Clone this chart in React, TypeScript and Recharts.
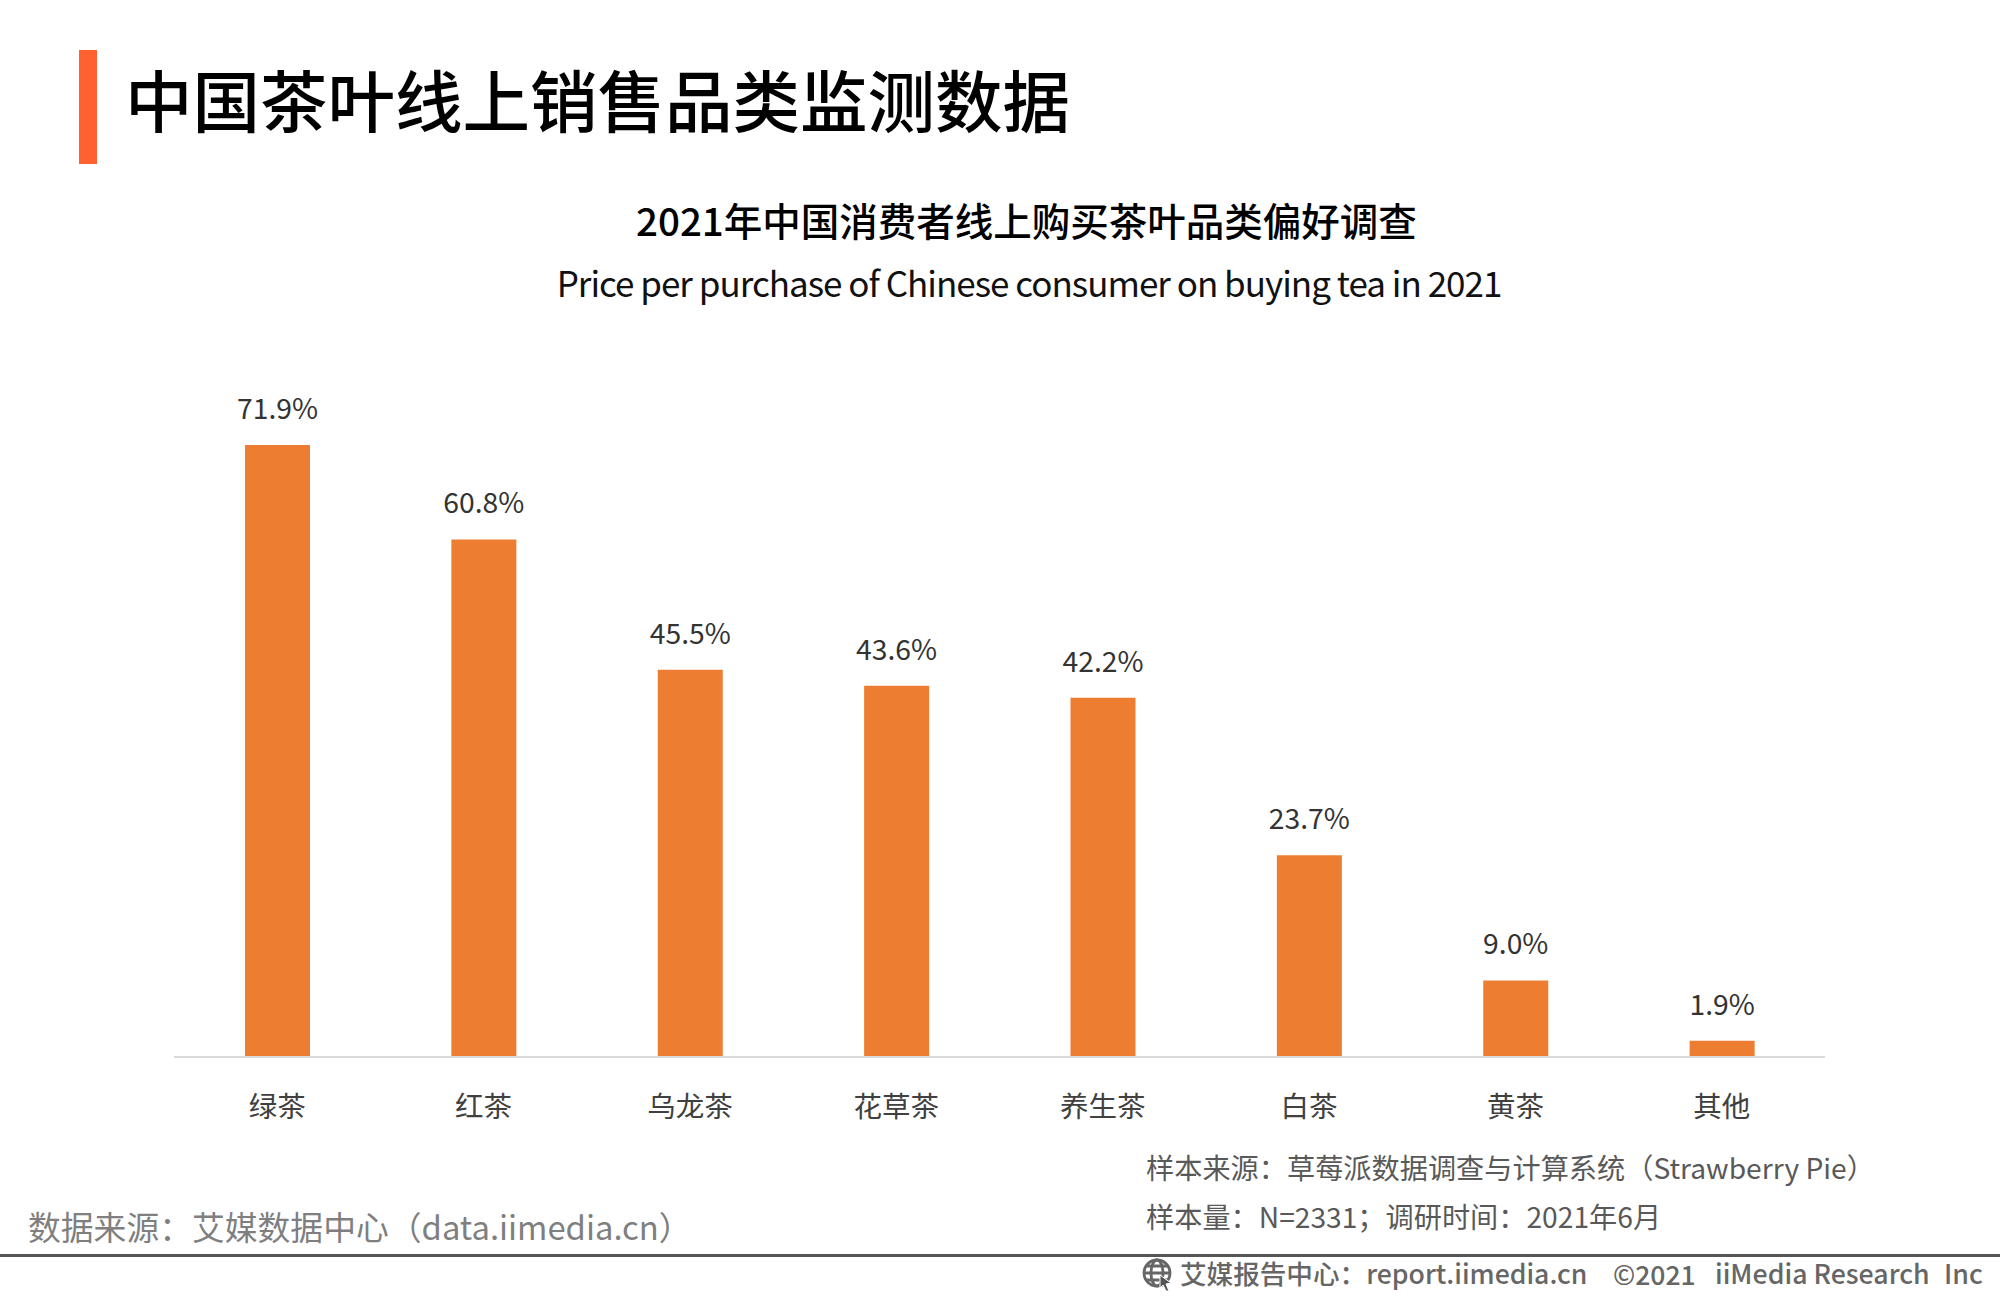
import { BarChart, Bar, XAxis, YAxis, LabelList } from "recharts";

const categories = ["绿茶", "红茶", "乌龙茶", "花草茶", "养生茶", "白茶", "黄茶", "其他"];
const shares = [71.9, 60.8, 45.5, 43.6, 42.2, 23.7, 9.0, 1.9];

const chartData = categories.map((name, i) => ({ name, share: shares[i] }));

const FONT = '"Noto Sans CJK SC", "Noto Sans", sans-serif';

function Txt({ x, y, size, color, weight, center, spacing, children }: any) {
  // y is the vertical centre of the line
  return (
    <div
      style={{
        position: "absolute",
        left: center ? x - 800 : x,
        width: center ? 1600 : undefined,
        textAlign: center ? "center" : "left",
        top: y - size,
        lineHeight: `${size * 2}px`,
        fontSize: size,
        color,
        fontWeight: weight || 400,
        fontFamily: FONT,
        letterSpacing: spacing,
        whiteSpace: "nowrap",
      }}
    >
      {children}
    </div>
  );
}

export default function App() {
  return (
    <div style={{ position: "absolute", left: 0, top: 0, width: 2000, height: 1300, background: "#fff", overflow: "hidden" }}>
      <div style={{ position: "absolute", left: 79, top: 50, width: 18, height: 114, background: "#FF6131" }} />
      <Txt x={125} y={97} size={67.5} color="#000" weight={500}>中国茶叶线上销售品类监测数据</Txt>
      <Txt x={636} y={219} size={38.5} color="#000" weight={500}>2021年中国消费者线上购买茶叶品类偏好调查</Txt>
      <Txt x={1029} y={282} size={35} color="#111" center spacing={-1}>Price per purchase of Chinese consumer on buying tea in 2021</Txt>

      <div style={{ position: "absolute", left: 0, top: 0 }}>
        <BarChart
          width={2000}
          height={1300}
          data={chartData}
          margin={{ top: 376, right: 175, bottom: 183, left: 174 }}
        >
          <YAxis hide domain={[0, 80]} />
          <XAxis
            dataKey="name"
            height={60}
            interval={0}
            tickLine={false}
            axisLine={{ stroke: "#D9D9D9", strokeWidth: 2 }}
            tickMargin={34}
            tick={{ fill: "#404040", fontSize: 28.5, fontFamily: FONT }}
          />
          <Bar dataKey="share" fill="#ED7D31" barSize={65} isAnimationActive={false}>
            <LabelList
              dataKey="share"
              position="top"
              offset={26}
              fill="#333"
              fontSize={28.3}
              fontFamily={FONT}
              formatter={(v: number) => `${v.toFixed(1)}%`}
            />
          </Bar>
        </BarChart>
      </div>

      <Txt x={1146} y={1167} size={28.2} color="#595959">样本来源：草莓派数据调查与计算系统（Strawberry Pie）</Txt>
      <Txt x={1146} y={1216} size={28.2} color="#595959">样本量：N=2331；调研时间：2021年6月</Txt>
      <Txt x={28} y={1226} size={32.8} color="#7F7F7F">数据来源：艾媒数据中心（data.iimedia.cn）</Txt>
      <div style={{ position: "absolute", left: 0, top: 1254, width: 2000, height: 3, background: "#555" }} />
      <svg style={{ position: "absolute", left: 1142, top: 1258, width: 32, height: 34 }} viewBox="0 0 32 34">
        <g fill="none" stroke="#666" strokeWidth="2.8">
          <circle cx="15" cy="15" r="13" />
          <ellipse cx="15" cy="15" rx="6" ry="13" />
          <path d="M2 15 H28 M4 8 H26 M4 22 H26" />
        </g>
        <path d="M18 17 L29 25 L24 26 L27 33 L24 33 L21 27 L18 30 Z" fill="#555" stroke="#fff" />
      </svg>
      <Txt x={1180} y={1273} size={26.6} color="#666" weight={500}>艾媒报告中心：report.iimedia.cn</Txt>
      <Txt x={1613} y={1273} size={26.5} color="#666" weight={500}>©2021</Txt>
      <Txt x={1715} y={1273} size={26.7} color="#666" weight={500}>iiMedia Research</Txt>
      <Txt x={1944} y={1273} size={26.7} color="#666" weight={500}>Inc</Txt>
    </div>
  );
}
